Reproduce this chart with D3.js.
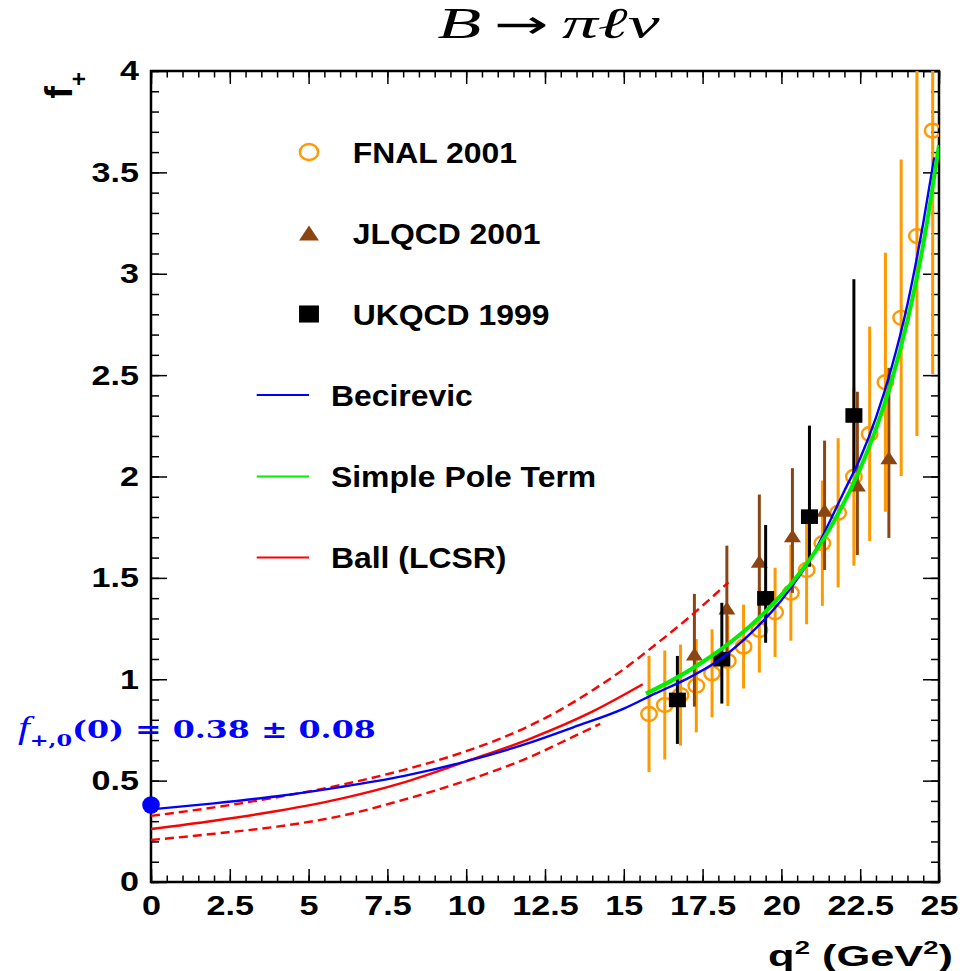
<!DOCTYPE html>
<html>
<head>
<meta charset="utf-8">
<script src="https://cdn.jsdelivr.net/npm/d3@7"></script>
<style>
  html, body { margin: 0; padding: 0; background: #fff; }
  svg { display: block; }
</style>
</head>
<body>
<script>
// ---- Lattice QCD points: B -> pi l nu form factor f+(q^2) ----
const fnalQ2  = [15.8, 16.3, 16.8, 17.3, 17.8, 18.3, 18.8, 19.3, 19.8, 20.3, 20.8, 21.3, 21.8, 22.3, 22.8, 23.3, 23.8, 24.3, 24.8];
const fnalF   = [0.829, 0.873, 0.922, 0.968, 1.029, 1.090, 1.161, 1.243, 1.330, 1.427, 1.539, 1.671, 1.821, 1.999, 2.210, 2.465, 2.783, 3.186, 3.706];
const fnalErr = [0.287, 0.269, 0.249, 0.230, 0.217, 0.222, 0.207, 0.210, 0.220, 0.237, 0.268, 0.309, 0.368, 0.439, 0.529, 0.639, 0.781, 0.986, 1.200];

const jlqcdQ2    = [17.24, 18.27, 19.30, 20.35, 21.37, 22.41, 23.41];
const jlqcdF     = [1.125, 1.352, 1.582, 1.708, 1.833, 1.958, 2.092];
const jlqcdErrHi = [0.296, 0.307, 0.329, 0.333, 0.344, 0.460, 0.444];
const jlqcdErrLo = [0.260, 0.270, 0.280, 0.282, 0.294, 0.345, 0.395];

const ukqcdQ2    = [16.70, 18.11, 19.50, 20.89, 22.30];
const ukqcdF     = [0.898, 1.099, 1.399, 1.802, 2.301];
const ukqcdErrHi = [0.217, 0.278, 0.362, 0.449, 0.672];
const ukqcdErrLo = [0.217, 0.219, 0.219, 0.247, 0.284];

// ---- Model curves ----
const becirevicQ2 = [0, 2, 4, 6, 8, 10, 12, 13.4, 15, 16, 17, 18, 19, 20, 21, 22, 22.5, 23, 23.5, 24, 24.5, 24.85];
const becirevicF  = [0.358, 0.388, 0.423, 0.468, 0.522, 0.595, 0.686, 0.763, 0.855, 0.930, 1.002, 1.092, 1.222, 1.390, 1.615, 1.930, 2.090, 2.290, 2.540, 2.850, 3.250, 3.574];

const poleQ2 = [15.7, 16.5, 17.5, 18.5, 19.5, 20.5, 21.5, 22.5, 23.0, 23.5, 24.0, 24.5, 25.0];
const poleF  = [0.929, 0.992, 1.085, 1.197, 1.335, 1.508, 1.734, 2.039, 2.235, 2.473, 2.769, 3.144, 3.635];

const ballQ2 = [0, 2, 4, 6, 8, 10, 12, 14, 15.6];
const ballF  = [0.261, 0.302, 0.350, 0.410, 0.490, 0.595, 0.705, 0.840, 0.975];
const ballHiQ2 = [0, 2, 4, 6, 8, 10, 11, 12, 13, 14, 15, 16, 17, 18.32];
const ballHiF  = [0.326, 0.368, 0.418, 0.478, 0.552, 0.645, 0.702, 0.770, 0.850, 0.945, 1.050, 1.170, 1.296, 1.478];
const ballLoQ2 = [0, 2, 4, 6, 8, 10, 12, 13.4, 14.25];
const ballLoF  = [0.207, 0.238, 0.273, 0.325, 0.405, 0.500, 0.615, 0.717, 0.780];

// ---- Annotated value at q^2 = 0 ----
const f0Q2 = 0;
const f0Value = 0.38;
const f0Error = 0.08;

// ---- Axis ticks ----
const xMajorTicks = [0, 2.5, 5, 7.5, 10, 12.5, 15, 17.5, 20, 22.5, 25];
const yMajorTicks = [0, 0.5, 1, 1.5, 2, 2.5, 3, 3.5, 4];

const seriesNames = ["FNAL 2001", "JLQCD 2001", "UKQCD 1999", "Becirevic", "Simple Pole Term", "Ball (LCSR)"];

const COL_FNAL = "#ff9900";
const COL_JLQCD = "#8b4513";
const COL_UKQCD = "#000000";
const COL_BEC = "#0000ff";
const COL_POLE = "#00ee00";
const COL_BALL = "#ff0000";

const SANS = "'Liberation Sans', Arial, Helvetica, sans-serif";
const SERIF = "'Liberation Serif', 'Times New Roman', serif";
const WIDE_SERIF = "'DejaVu Serif', serif";

const W = 973, H = 971;
const svg = d3.select("body").append("svg").attr("width", W).attr("height", H);
svg.append("rect").attr("width", W).attr("height", H).attr("fill", "#fff");

const x = d3.scaleLinear().domain([0, 25]).range([151, 939]);
const y = d3.scaleLinear().domain([0, 4]).range([882, 71]);

svg.append("defs").append("clipPath").attr("id", "plotClip")
  .append("rect")
  .attr("x", x(0)).attr("y", y(4))
  .attr("width", x(25) - x(0)).attr("height", y(0) - y(4));

// Stretch a text element horizontally so it spans the given width.
function fitWidth(sel, x0, y0, width) {
  const w = sel.node().getBBox().width;
  sel.attr("transform", `translate(${x0},${y0}) scale(${width / w},1)`);
}

// ---- Axes: ticks drawn inward on all four sides ----
function addAxis(axis, tx, ty) {
  const g = svg.append("g").attr("transform", `translate(${tx},${ty})`).call(axis);
  g.select(".domain").remove();
  g.selectAll("line").attr("stroke", "#000").attr("stroke-width", 1.5);
  return g;
}
const xMinor = d3.range(0, 25.001, 0.5);
const yMinor = d3.range(0, 4.001, 0.1);

addAxis(d3.axisBottom(x).tickValues(xMinor).tickSize(-6.5).tickFormat(""), 0, y(0));
addAxis(d3.axisTop(x).tickValues(xMinor).tickSize(-6.5).tickFormat(""), 0, y(4));
addAxis(d3.axisTop(x).tickValues(xMajorTicks).tickSize(-13).tickFormat(""), 0, y(4));
addAxis(d3.axisLeft(y).tickValues(yMinor).tickSize(-8).tickFormat(""), x(0), 0);
addAxis(d3.axisRight(y).tickValues(yMinor).tickSize(-8).tickFormat(""), x(25), 0);
addAxis(d3.axisRight(y).tickValues(yMajorTicks).tickSize(-16).tickFormat(""), x(25), 0);

const LABEL_SX = 1.22;
const xAx = addAxis(d3.axisBottom(x).tickValues(xMajorTicks).tickSize(-13).tickPadding(13).tickFormat(d => String(d)), 0, y(0));
xAx.selectAll("text")
  .attr("font-family", SANS).attr("font-weight", "bold").attr("font-size", 28).attr("fill", "#000")
  .attr("transform", `scale(${LABEL_SX},1)`);

const yAx = addAxis(d3.axisLeft(y).tickValues(yMajorTicks).tickSize(-16).tickPadding(12).tickFormat(d => String(d)), x(0), 0);
yAx.selectAll("text")
  .attr("font-family", SANS).attr("font-weight", "bold").attr("font-size", 28).attr("fill", "#000")
  .attr("x", -12 / LABEL_SX)
  .attr("transform", `scale(${LABEL_SX},1)`);

// Frame
svg.append("rect")
  .attr("x", x(0)).attr("y", y(4))
  .attr("width", x(25) - x(0)).attr("height", y(0) - y(4))
  .attr("fill", "none").attr("stroke", "#000").attr("stroke-width", 2.5);

// ---- Markers ----
function drawCircle(g, cx, cy, s) {
  g.append("ellipse").attr("cx", cx).attr("cy", cy).attr("rx", 7.8 * s).attr("ry", 6.9 * s)
    .attr("fill", "none").attr("stroke", COL_FNAL).attr("stroke-width", 2.4);
}
function drawTriangle(g, cx, cy, s) {
  const hw = 8.5 * s, hh = 6.5 * s;
  g.append("path").attr("d", `M${cx},${cy - hh}L${cx + hw},${cy + hh}L${cx - hw},${cy + hh}Z`)
    .attr("fill", COL_JLQCD);
}
function drawSquare(g, cx, cy, s) {
  const hw = 8.5 * s, hh = 7.3 * s;
  g.append("rect").attr("x", cx - hw).attr("y", cy - hh).attr("width", 2 * hw).attr("height", 2 * hh)
    .attr("fill", COL_UKQCD);
}

const plot = svg.append("g").attr("clip-path", "url(#plotClip)");

function drawSeries(q2, f, lo, hi, color, marker) {
  const g = plot.append("g");
  q2.forEach((q, i) => {
    g.append("line")
      .attr("x1", x(q)).attr("x2", x(q))
      .attr("y1", y(f[i] + hi[i])).attr("y2", y(f[i] - lo[i]))
      .attr("stroke", color).attr("stroke-width", 3);
  });
  q2.forEach((q, i) => marker(g, x(q), y(f[i]), 1));
}
drawSeries(fnalQ2, fnalF, fnalErr, fnalErr, COL_FNAL, drawCircle);
drawSeries(jlqcdQ2, jlqcdF, jlqcdErrLo, jlqcdErrHi, COL_JLQCD, drawTriangle);
drawSeries(ukqcdQ2, ukqcdF, ukqcdErrLo, ukqcdErrHi, COL_UKQCD, drawSquare);

// ---- Curves ----
const line = d3.line().x(d => x(d[0])).y(d => y(d[1])).curve(d3.curveMonotoneX);
function drawCurve(q2, f, color, width, dash) {
  plot.append("path")
    .attr("d", line(q2.map((q, i) => [q, f[i]])))
    .attr("fill", "none").attr("stroke", color).attr("stroke-width", width)
    .attr("stroke-dasharray", dash || null);
}
drawCurve(ballHiQ2, ballHiF, COL_BALL, 2.4, "9,5");
drawCurve(ballLoQ2, ballLoF, COL_BALL, 2.4, "9,5");
drawCurve(ballQ2, ballF, COL_BALL, 2.4);
drawCurve(becirevicQ2, becirevicF, COL_BEC, 2.4);
drawCurve(poleQ2, poleF, COL_POLE, 4);

// ---- Value at q^2 = 0 ----
svg.append("circle").attr("cx", x(f0Q2)).attr("cy", y(f0Value)).attr("r", 8.8).attr("fill", COL_BEC);

const ann = svg.append("text")
  .attr("font-family", WIDE_SERIF).attr("font-weight", "bold").attr("font-size", 24).attr("fill", COL_BEC);
ann.append("tspan").attr("font-family", SERIF).attr("font-style", "italic").attr("font-weight", "normal")
  .attr("font-size", 32).text("f");
ann.append("tspan").attr("font-size", 17).attr("dy", 8).text("+,0");
ann.append("tspan").attr("dy", -8).text(`(0) = ${f0Value.toFixed(2)} \u00b1 ${f0Error.toFixed(2)}`);
fitWidth(ann, 18, 738, 358);

// ---- Legend ----
const LEG_SX = 1.1;
function legendText(label, tx, ty) {
  svg.append("text")
    .attr("transform", `translate(${tx},${ty + 10.5}) scale(${LEG_SX},1)`)
    .attr("font-family", SANS).attr("font-weight", "bold").attr("font-size", 29).attr("fill", "#000")
    .text(label);
}
const legMarkers = [drawCircle, drawTriangle, drawSquare];
const legRowsMarker = [152, 233, 314];
legMarkers.forEach((m, i) => {
  m(svg, 309, legRowsMarker[i], 1.17);
  legendText(seriesNames[i], 352.7, legRowsMarker[i]);
});
const legLines = [COL_BEC, COL_POLE, COL_BALL];
const legRowsLine = [395, 476.5, 557.5];
legLines.forEach((c, i) => {
  svg.append("line").attr("x1", 256.7).attr("x2", 309)
    .attr("y1", legRowsLine[i]).attr("y2", legRowsLine[i])
    .attr("stroke", c).attr("stroke-width", 2);
  legendText(seriesNames[3 + i], 331, legRowsLine[i]);
});

// ---- Title ----
const title = svg.append("text")
  .attr("font-family", SERIF).attr("font-style", "italic").attr("font-size", 44).attr("fill", "#000")
  .attr("text-anchor", "middle");
title.append("tspan").text("B");
title.append("tspan").attr("font-style", "normal").attr("font-family", "'DejaVu Sans', sans-serif")
  .attr("font-size", 40).text("\u2009\u2192\u2009");
title.append("tspan").text("\u03c0\u2113\u03bd");
fitWidth(title, 548.5, 38, 223);

// ---- Axis titles ----
const xt = svg.append("text")
  .attr("font-family", SANS).attr("font-weight", "bold").attr("font-size", 30).attr("fill", "#000")
  .attr("text-anchor", "end");
xt.append("tspan").text("q");
xt.append("tspan").attr("font-size", 19).attr("dy", -12).text("2");
xt.append("tspan").attr("dy", 12).text(" (GeV");
xt.append("tspan").attr("font-size", 19).attr("dy", -12).text("2");
xt.append("tspan").attr("dy", 12).text(")");
fitWidth(xt, 953, 966, 185);

const yt = svg.append("text")
  .attr("transform", "translate(72,72) rotate(-90)")
  .attr("font-family", SANS).attr("font-weight", "bold").attr("font-size", 38).attr("fill", "#000")
  .attr("text-anchor", "end");
yt.append("tspan").text("f");
yt.append("tspan").attr("font-size", 24).attr("dy", 15).text("+");
</script>
</body>
</html>
